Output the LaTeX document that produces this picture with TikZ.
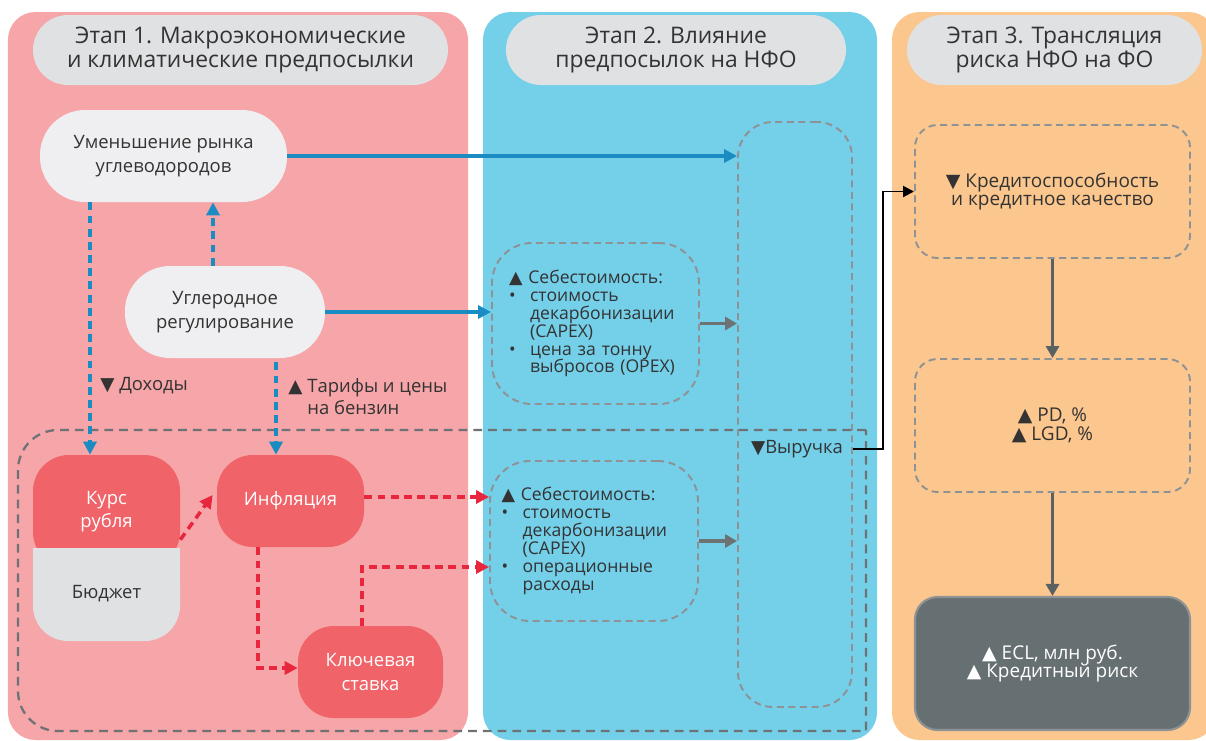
\documentclass[tikz,border=0pt]{standalone}
\usepackage{fontspec}
\setmainfont{Open Sans}
\newfontfamily\symfont{DejaVu Sans}
\usepackage{xcolor}
\usepackage{tikz}
\usetikzlibrary{arrows.meta, positioning, calc}
\definecolor{panelR}{HTML}{F6A5A8}
\definecolor{panelB}{HTML}{74CFE9}
\definecolor{panelO}{HTML}{FCC78E}
\definecolor{pillG}{HTML}{E0E1E3}
\definecolor{nodeW}{HTML}{EFEFF1}
\definecolor{nodeR}{HTML}{F06368}
\definecolor{nodeD}{HTML}{667072}
\definecolor{lineB}{HTML}{1A8CC2}
\definecolor{lineR}{HTML}{E8263E}
\definecolor{lineG}{HTML}{6D7375}
\definecolor{lineD}{HTML}{596163}
\definecolor{dashG}{HTML}{8E9294}
\definecolor{textD}{HTML}{333333}
\newcommand{\tup}{{\symfont ▲}}
\newcommand{\tdn}{{\symfont ▼}}
\newcommand{\itm}{\makebox[1.2em][l]{•}}
\newcommand{\ind}{\hspace*{1.2em}}
\tikzset{
  panel/.style  = {rectangle, rounded corners=0.55cm, inner sep=0pt, minimum height=14.56cm},
  head/.style   = {rectangle, fill=pillG, rounded corners=0.7cm, minimum height=1.4cm,
                   align=center, text=textD, font=\fontsize{13}{13.8}\selectfont},
  blockW/.style = {rectangle, fill=nodeW, rounded corners=0.9cm, minimum height=1.84cm,
                   align=center, text=textD, font=\fontsize{10.5}{13.5}\selectfont},
  blockR/.style = {rectangle, fill=nodeR, rounded corners=0.72cm, minimum width=2.94cm,
                   minimum height=1.84cm, align=center, text=white,
                   font=\fontsize{10.5}{13.5}\selectfont},
  dbox/.style   = {rectangle, draw=dashG, line width=1.1pt, dash pattern=on 4pt off 2.6pt,
                   align=left, text=textD, font=\fontsize{10}{10.2}\selectfont},
  dboxC/.style  = {dbox, align=center, rounded corners=0.45cm, minimum width=5.5cm,
                   minimum height=2.66cm, font=\fontsize{10.8}{10.8}\selectfont},
  lbl/.style    = {align=left, text=textD, inner sep=0pt, font=\fontsize{10.5}{12.5}\selectfont},
  arrowB/.style = {line width=2pt, draw=lineB, -{Triangle[length=2.6mm,width=2.6mm]}},
  dasharrowB/.style = {arrowB, dash pattern=on 4.5pt off 3pt},
  dasharrowR/.style = {line width=2pt, draw=lineR, dash pattern=on 4.5pt off 3pt,
                   -{Triangle[length=2.6mm,width=2.6mm]}},
  arrowG/.style = {line width=2pt, draw=lineG, -{Triangle[length=2.4mm,width=2.6mm]}},
  arrowD/.style = {line width=2pt, draw=lineD, -{Triangle[length=2.4mm,width=2.6mm]}},
  arrowK/.style = {line width=1.1pt, draw=black, -{Triangle[length=2.2mm,width=2.2mm]}},
}

\begin{document}
\begin{tikzpicture}
    \useasboundingbox (0,0) rectangle (24.12,-14.8);
    \clip (0,0) rectangle (24.12,-14.8);

    %% Stage panels
    \node[panel, fill=panelR, minimum width=9.2cm]  (p1) at (4.76,-7.52) {};
    \node[panel, fill=panelB, minimum width=7.88cm] (p2) at (13.6,-7.52) {};
    \node[panel, fill=panelO, minimum width=6.48cm] (p3) at (21.08,-7.52) {};

    \node[head, minimum width=8.3cm] (h1) at (4.81,-1.0)  {Этап 1. Макроэкономические\\и климатические предпосылки};
    \node[head, minimum width=6.8cm] (h2) at (13.52,-1.0) {Этап 2. Влияние\\предпосылок на НФО};
    \node[head, minimum width=5.9cm] (h3) at (21.09,-1.0) {Этап 3. Трансляция\\риска НФО на ФО};

    %% Stage 1: drivers
    \node[blockW, minimum width=4.94cm] (umen) at (3.27,-3.12) {Уменьшение рынка\\углеводородов};
    \node[blockW, minimum width=4.0cm]  (ugl)  at (4.5,-6.24)  {Углеродное\\регулирование};

    %% macro group frame
    \draw[lineG, line width=1.3pt, dash pattern=on 5pt off 3.4pt]
        (17.32,-8.6) -- (1.16,-8.6) arc[start angle=90, end angle=180, radius=0.8]
        -- (0.36,-13.82) arc[start angle=180, end angle=270, radius=0.8] -- (17.32,-14.62) -- cycle;

    \node[blockR, minimum height=2.26cm] (kurs) at (2.13,-10.23) {Курс\\рубля};
    \node[rectangle, fill=pillG, rounded corners=0.7cm, minimum width=2.94cm, minimum height=1.86cm,
          text=textD, font=\fontsize{10.5}{13.5}\selectfont] (byud) at (2.13,-11.89) {\raisebox{0.12cm}{Бюджет}};
    \fill[pillG] (byud.north west) rectangle ++(0.75,-0.75);
    \fill[pillG] (byud.north east) rectangle ++(-0.75,-0.75);

    \node[blockR] (infl)   at (5.81,-10.02) {Инфляция};
    \node[blockR, minimum width=2.9cm] (klyuch) at (7.41,-13.44) {Ключевая\\ставка};

    %% Stage 2: effects on companies
    \node[dbox, rounded corners=0.8cm, minimum width=4.14cm, minimum height=3.22cm, text width=3.46cm]
        (cost1) at (11.91,-6.47)
        {\tup\ Себестоимость:\\\itm стоимость\\\ind декарбонизации\\\ind (CAPEX)\\\itm цена за тонну\\\ind выбросов (OPEX)};
    \node[dbox, rounded corners=0.8cm, minimum width=4.16cm, minimum height=3.2cm, text width=3.7cm]
        (cost2) at (11.88,-10.82)
        {\tup\ Себестоимость:\\\itm стоимость\\\ind декарбонизации\\\ind (CAPEX)\\\itm операционные\\\ind расходы};
    \node[dbox, rounded corners=0.7cm, minimum width=2.28cm, minimum height=11.7cm] (rev) at (15.9,-8.29) {};
    \node[lbl] (vyr) at (15.94,-8.98) {\tdn Выручка};

    %% Stage 3: credit risk
    \node[dboxC] (boxA) at (21.05,-3.83) {\tdn\ Кредитоспособность\\и кредитное качество};
    \node[dboxC] (boxB) at (21.05,-8.51) {\tup\ PD, \%\\\tup\ LGD, \%};
    \node[rectangle, fill=nodeD, draw=dashG, line width=1.2pt, rounded corners=0.45cm,
          minimum width=5.5cm, minimum height=2.66cm, align=center, text=white,
          font=\fontsize{10.8}{10.8}\selectfont] (ecl) at (21.05,-13.27)
          {\tup\ ECL, млн руб.\\\tup\ Кредитный риск};

    %% Blue links
    \draw[arrowB] (umen.east) -- (umen.east -| rev.west);
    \draw[arrowB] (ugl.east) -- (ugl.east -| cost1.west);
    \draw[dasharrowB] ([xshift=-0.33cm]kurs.north |- umen.south) -- ([xshift=-0.33cm]kurs.north);
    \draw[dasharrowB] ([xshift=-0.24cm]ugl.north) -- ([xshift=-0.24cm]ugl.north |- umen.south);
    \draw[dasharrowB] ([xshift=-0.29cm,yshift=-0.08cm]infl.north |- ugl.south) -- ([xshift=-0.29cm]infl.north);
    \node[lbl, anchor=west] (doh) at (2.0,-7.72) {\tdn\ Доходы};
    \node[lbl, anchor=west] (tar) at (5.76,-7.96) {\tup\ Тарифы и цены\\\phantom{\tup\ }на бензин};

    %% Red links
    \draw[dasharrowR] ([yshift=0.16cm]byud.north east) -- ([xshift=-0.08cm,yshift=0.12cm]infl.west);
    \draw[dasharrowR] ([yshift=0.08cm]infl.east) -- ([yshift=0.08cm]infl.east -| cost2.west);
    \draw[dasharrowR] ([xshift=-0.65cm]infl.south) |- ([yshift=0.08cm]klyuch.west);
    \draw[dasharrowR] ([xshift=-0.17cm]klyuch.north) |- ([yshift=-0.52cm]cost2.west);

    %% Into revenue and stage 3
    \draw[arrowG] (cost1.east) -- (cost1.east -| rev.west);
    \draw[arrowG] (cost2.east) -- (cost2.east -| rev.west);
    \draw[arrowK] (vyr -| rev.east) -- ++(0.6,0) |- (boxA.west);
    \draw[arrowD] (boxA.south) -- (boxB.north);
    \draw[arrowD] (boxB.south) -- (ecl.north);

\end{tikzpicture}
\end{document}
